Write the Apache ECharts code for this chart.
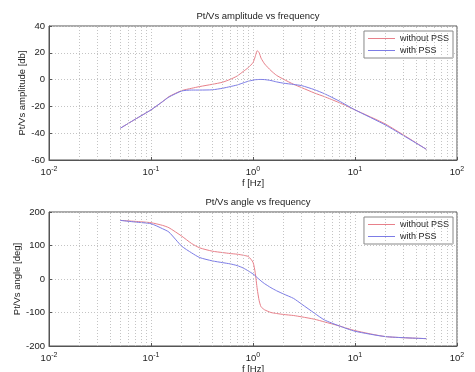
<!DOCTYPE html>
<html>
<head>
<meta charset="utf-8">
<script src="https://cdn.jsdelivr.net/npm/echarts@6/dist/echarts.min.js"></script>
<style>
  html, body { margin: 0; padding: 0; background: #fff; }
  #chart { width: 475px; height: 372px; }
</style>
</head>
<body>
<div id="chart"></div>
<script>
// frequency points (Hz) shared by all curves
var freq = [0.05, 0.07, 0.1, 0.13, 0.15, 0.2, 0.25, 0.3, 0.4, 0.5, 0.6, 0.7, 0.8, 0.9, 1.0, 1.05, 1.1, 1.15, 1.2, 1.3, 1.5, 1.7, 2, 2.5, 3, 4, 5, 7, 10, 20, 50];
var ampWithout = [-36.3, -29.6, -22.6, -16.4, -12.7, -8.2, -6.5, -5.2, -3.5, -2, 0.2, 2.7, 6, 9, 12.7, 17, 21.6, 20, 16, 11.7, 6.7, 3.2, 0.2, -3.5, -6, -10, -12.7, -17.2, -22.6, -33.3, -52];
var ampWith = [-36.3, -29.6, -22.6, -16.4, -13, -8.5, -7.8, -7.8, -7.6, -6.5, -5.2, -4, -2.5, -1.2, -0.4, -0.1, 0, 0.1, 0.1, 0, -0.7, -1.7, -2.7, -3.6, -4.5, -7.5, -10.5, -16, -22.6, -34, -52];
var angWithout = [175, 172, 168, 160, 153, 128, 106, 93, 83, 79, 76, 74, 71, 67, 50, 20, -30, -65, -83, -92, -100, -103, -106, -109, -113, -120, -128, -140, -154, -172, -178];
var angWith = [175, 170, 165, 150, 140, 98, 78, 64, 54, 49, 45, 40, 33, 24, 15, 10, 4, -1, -6, -14, -26, -35, -45, -58, -75, -102, -122, -140, -156, -172, -178];
var seriesNames = ["without PSS", "with PSS"];
var titles = ["Pt/Vs amplitude vs frequency", "Pt/Vs angle vs frequency"];
var yNames = ["Pt/Vs amplitude [db]", "Pt/Vs angle [deg]"];
var xName = "f [Hz]";
// minor log grid lines 2..9 in each decade
var minorX = [];
[0.01, 0.1, 1, 10].forEach(function (d) {
  for (var k = 2; k <= 9; k++) minorX.push(+(d * k).toPrecision(3));
});

var red = "#e8808a";
var blue = "#7c7ce6";
var gridColor = "#c4c4c4";
var textColor = "#222";
var font = "Liberation Sans";
var lineIcon = "path://M0,0 L27,0 L27,1 L0,1 Z";

function pairs(ys) {
  return freq.map(function (f, i) { return [f, ys[i]]; });
}

function xAxis(idx) {
  return {
    type: "log", logBase: 10, gridIndex: idx, min: 0.01, max: 100,
    name: xName, nameLocation: "middle", nameGap: 18, nameMoveOverlap: false,
    nameTextStyle: { color: textColor, fontFamily: font, fontSize: 9.5 },
    axisLine: { onZero: false, lineStyle: { color: "#555" } },
    axisTick: { inside: true, length: 3, lineStyle: { color: "#555" } },
    axisLabel: {
      color: textColor, fontFamily: font, fontSize: 9.5, margin: 6,
      formatter: function (v) {
        var e = Math.round(Math.log10(v));
        return "10{s|" + e + "}";
      },
      rich: { s: { fontSize: 7, verticalAlign: "top", padding: [0, 0, 6, 0], color: textColor, fontFamily: font } }
    },
    splitLine: { show: true, lineStyle: { color: gridColor, type: [1, 2] } }
  };
}

function yAxis(idx, min, max, interval, gap) {
  return {
    type: "value", gridIndex: idx, min: min, max: max, interval: interval,
    name: yNames[idx], nameLocation: "middle", nameGap: gap, nameMoveOverlap: false,
    nameTextStyle: { color: textColor, fontFamily: font, fontSize: 9.5 },
    axisLine: { show: true, onZero: false, lineStyle: { color: "#555" } },
    axisTick: { show: true, inside: true, length: 3, lineStyle: { color: "#555" } },
    axisLabel: { color: textColor, fontFamily: font, fontSize: 9.5, margin: 4 },
    splitLine: { show: true, lineStyle: { color: gridColor, type: [1, 2] } }
  };
}

function line(name, idx, ys, color) {
  return {
    name: name, type: "line", xAxisIndex: idx, yAxisIndex: idx,
    data: pairs(ys), symbol: "none", smooth: 0.2,
    lineStyle: { color: color, width: 1 }, itemStyle: { color: color },
    emphasis: { disabled: true }
  };
}

function minorLines(idx) {
  return {
    type: "line", xAxisIndex: idx, yAxisIndex: idx, data: [], silent: true,
    markLine: {
      silent: true, symbol: "none", label: { show: false },
      lineStyle: { color: gridColor, type: [1, 2], width: 1 },
      data: minorX.map(function (v) { return { xAxis: v }; })
    }
  };
}

function legend(top) {
  return {
    data: seriesNames.map(function (n) { return { name: n, icon: lineIcon }; }),
    orient: "vertical", right: 22, top: top,
    itemWidth: 27, itemHeight: 9, itemGap: 3,
    padding: [3, 4, 3, 4], borderColor: "#888", borderWidth: 1, backgroundColor: "#fff",
    textStyle: { fontFamily: font, fontSize: 9, color: textColor }, selectedMode: false
  };
}

var chart = echarts.init(document.getElementById("chart"));
chart.setOption({
  animation: false,
  backgroundColor: "#fff",
  title: [
    { text: titles[0], left: 253, top: 6, textAlign: "center",
      textStyle: { fontFamily: font, fontSize: 9.5, fontWeight: "normal", color: textColor } },
    { text: titles[1], left: 253, top: 192, textAlign: "center",
      textStyle: { fontFamily: font, fontSize: 9.5, fontWeight: "normal", color: textColor } }
  ],
  grid: [
    { left: 49, right: 18, top: 26, height: 134, show: true, borderColor: "#555", borderWidth: 1, outerBoundsMode: "none" },
    { left: 49, right: 18, top: 212, height: 134, show: true, borderColor: "#555", borderWidth: 1, outerBoundsMode: "none" }
  ],
  legend: [legend(31), legend(217)],
  xAxis: [xAxis(0), xAxis(1)],
  yAxis: [yAxis(0, -60, 40, 20, 22), yAxis(1, -200, 200, 100, 27)],
  series: [
    minorLines(0), minorLines(1),
    line(seriesNames[0], 0, ampWithout, red),
    line(seriesNames[1], 0, ampWith, blue),
    line(seriesNames[0], 1, angWithout, red),
    line(seriesNames[1], 1, angWith, blue)
  ]
});
</script>
</body>
</html>
